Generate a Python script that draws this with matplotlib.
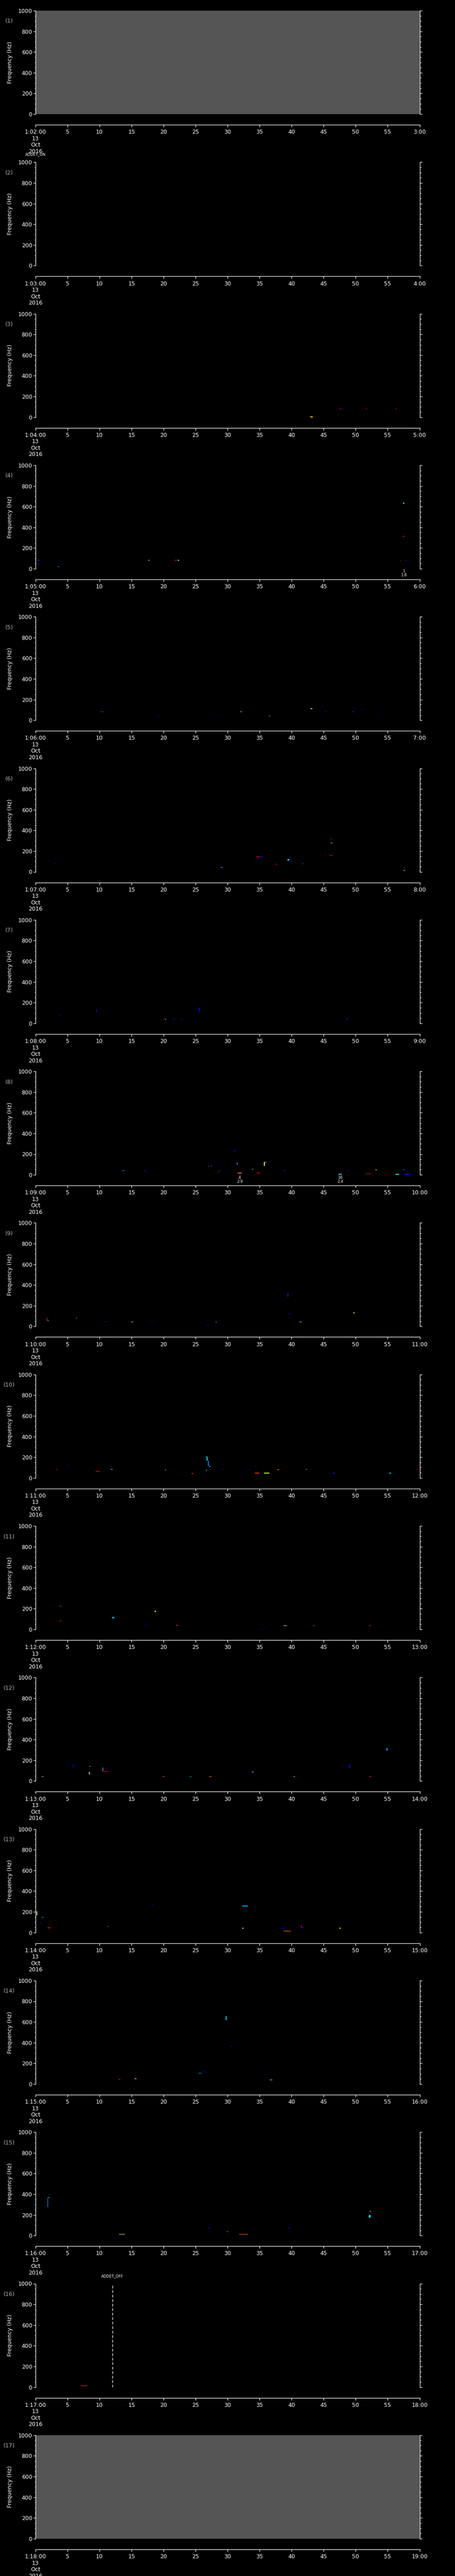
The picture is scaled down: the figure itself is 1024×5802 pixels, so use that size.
import numpy as np
import matplotlib
matplotlib.use("Agg")
import matplotlib.pyplot as plt
from matplotlib import transforms

plt.rcParams['font.family'] = ['DejaVu Sans']
plt.rcParams['lines.scale_dashes'] = False

# ---------------- data ----------------
n_panels = 17
gray_panels = [1, 17]
freq_ticks = [0, 200, 400, 600, 800, 1000]
time_ticks = [0, 5, 10, 15, 20, 25, 30, 35, 40, 45, 50, 55, 60]
date_lines = ["13", "Oct", "2016"]

# spectrogram blobs: panel, time (s), freq (Hz, centre), duration (s), freq span (Hz), colour level (0-1, jet)
ev_panel = [3, 3, 3, 3, 3,
            4, 4, 4, 4, 4, 4, 4, 4, 4, 4,
            5, 5, 5, 5, 5, 5, 5, 5, 5, 5, 5, 5,
            6, 6, 6, 6, 6, 6, 6, 6, 6, 6, 6, 6, 6, 6, 6,
            7, 7, 7, 7, 7, 7, 7, 7,
            8, 8, 8, 8, 8, 8, 8, 8, 8, 8, 8, 8, 8, 8, 8, 8, 8, 8, 8, 8, 8,
            9, 9, 9, 9, 9, 9, 9, 9, 9, 9, 9, 9,
            10, 10, 10, 10, 10, 10, 10, 10, 10, 10, 10, 10, 10, 10, 10, 10, 10, 10, 10, 10, 10, 10,
            11, 11, 11, 11, 11, 11, 11, 11, 11, 11,
            12, 12, 12, 12, 12, 12, 12, 12, 12, 12, 12, 12, 12, 12, 12, 12, 12,
            13, 13, 13, 13, 13, 13, 13, 13, 13, 13, 13, 13, 13,
            14, 14, 14, 14, 14, 14, 14,
            15, 15, 15, 15, 15, 15, 15, 15, 15, 15,
            16]
ev_time = [43.1, 47.6, 47.9, 51.7, 56.3,
           0.5, 0.5, 3.6, 17.7, 21.9, 22.3, 57.5, 57.5, 57.1, 57.9,
           10.3, 10.6, 19.1, 27.8, 32.1, 36.5, 36.7, 43.1, 45.3, 49.6, 51.0, 54.0,
           3.0, 29.1, 34.7, 35.2, 37.6, 39.5, 39.8, 40.0, 41.8, 46.2, 46.2, 46.2, 57.6, 57.6, 59.9,
           3.9, 9.5, 20.0, 20.3, 21.6, 22.8, 25.6, 48.7,
           13.7, 17.1, 27.0, 27.5, 28.5, 28.8, 31.1, 31.5, 31.9, 33.9, 34.8, 35.75, 35.95, 38.9, 47.6, 48.8, 52.0, 53.2, 56.5, 57.5, 58.0,
           1.8, 2.0, 6.4, 11.0, 15.1, 18.2, 26.9, 28.2, 39.4, 39.7, 41.4, 49.7,
           3.3, 5.1, 9.7, 11.8, 20.3, 24.5, 26.6, 26.8, 27.0, 27.25, 26.7, 29.3, 33.5, 34.4, 34.6, 36.1, 37.9, 42.3, 46.6, 55.4, 59.6, 12.0,
           3.9, 3.9, 12.1, 18.7, 17.3, 22.1, 35.3, 39.0, 43.5, 52.3,
           1.1, 5.9, 8.5, 8.4, 10.1, 10.5, 10.9, 11.0, 20.0, 24.2, 27.3, 33.9, 40.4, 49.0, 52.3, 54.9, 8.6,
           0.2, 1.1, 0.9, 2.1, 11.3, 18.3, 32.7, 32.4, 38.7, 39.3, 41.5, 41.8, 47.6,
           29.8, 30.6, 25.7, 26.4, 13.1, 15.6, 36.8,
           1.9, 2.1, 13.5, 27.1, 30.0, 32.5, 39.5, 52.3, 52.4, 52.2,
           7.6]
ev_freq = [2, 79, 79, 82, 82,
           82, 39, 20, 82, 80, 80, 632, 313, 79, 82,
           82, 82, 42, 42, 82, 42, 42, 113, 82, 82, 101, 51,
           78, 41, 143, 143, 72, 117, 146, 100, 78, 317, 278, 157, 38, 13, 10,
           79, 121, 39, 39, 39, 39, 130, 42,
           42, 42, 82, 86, 32, 42, 232, 110, 17, 55, 17, 105, 120, 40, 4, 40, 12, 48, 4, 48, 4,
           68, 55, 82, 48, 42, 37, 8, 42, 305, 121, 42, 130,
           83, 120, 63, 83, 78, 41, 207, 185, 140, 110, 75, 83, 75, 114, 46, 46, 80, 83, 46, 46, 83, 83,
           225, 82, 113, 175, 42, 42, 3, 37, 37, 37,
           42, 145, 141, 75, 130, 112, 93, 118, 42, 42, 42, 87, 42, 140, 42, 306, 62,
           185, 148, 89, 46, 58, 266, 257, 41, 41, 15, 58, 46, 41,
           637, 365, 106, 117, 44, 52, 41,
           320, 368, 12, 74, 37, 12, 74, 234, 225, 185,
           13]
ev_dur = [0.4, 0.2, 0.2, 0.2, 0.2,
          0.25, 0.15, 0.3, 0.15, 0.3, 0.2, 0.25, 0.3, 0.2, 0.15,
          0.2, 0.2, 0.25, 0.25, 0.25, 0.15, 0.2, 0.3, 0.2, 0.2, 0.3, 0.2,
          0.2, 0.3, 0.4, 0.4, 0.25, 0.25, 0.15, 0.3, 0.25, 0.35, 0.3, 0.35, 0.3, 0.3, 0.2,
          0.25, 0.15, 0.2, 0.2, 0.25, 0.25, 0.1, 0.25,
          0.3, 0.3, 0.2, 0.25, 0.1, 0.25, 0.25, 0.15, 0.6, 0.2, 0.5, 0.1, 0.2, 0.25, 0.5, 0.2, 0.8, 0.2, 0.5, 0.2, 0.8,
          0.15, 0.2, 0.2, 0.3, 0.4, 0.2, 0.4, 0.25, 0.15, 0.2, 0.3, 0.2,
          0.2, 0.2, 0.6, 0.2, 0.2, 0.3, 0.2, 0.1, 0.1, 0.2, 0.2, 0.2, 0.2, 0.2, 0.6, 0.8, 0.25, 0.2, 0.3, 0.25, 0.2, 0.2,
          0.4, 0.3, 0.3, 0.2, 0.25, 0.3, 0.3, 0.6, 0.2, 0.3,
          0.3, 0.15, 0.25, 0.1, 0.5, 0.1, 0.9, 0.2, 0.3, 0.3, 0.3, 0.4, 0.3, 0.2, 0.3, 0.2, 0.4,
          0.1, 0.3, 0.3, 0.4, 0.2, 0.3, 0.9, 0.2, 0.3, 1.2, 0.1, 0.3, 0.2,
          0.15, 0.2, 0.5, 0.3, 0.3, 0.3, 0.4,
          0.1, 0.25, 0.9, 0.2, 0.3, 1.4, 0.3, 0.2, 0.2, 0.25,
          1.1]
ev_span = [8, 7, 7, 5, 5,
           7, 5, 7, 7, 7, 7, 10, 7, 7, 7,
           6, 6, 6, 6, 6, 6, 6, 7, 6, 6, 6, 5,
           5, 6, 6, 6, 6, 14, 8, 6, 6, 6, 6, 6, 6, 6, 6,
           5, 20, 6, 6, 6, 6, 45, 6,
           6, 6, 6, 6, 25, 6, 8, 25, 7, 6, 7, 40, 8, 6, 6, 6, 5, 6, 6, 6, 6,
           30, 6, 6, 6, 6, 5, 6, 6, 40, 10, 6, 8,
           5, 5, 5, 5, 8, 6, 6, 40, 50, 10, 5, 5, 5, 5, 7, 7, 8, 5, 6, 6, 5, 5,
           5, 6, 12, 14, 5, 6, 5, 4, 5, 5,
           6, 28, 6, 20, 4, 35, 5, 6, 6, 6, 6, 6, 6, 30, 6, 22, 4,
           35, 5, 5, 6, 5, 6, 7, 6, 6, 5, 25, 6, 5,
           35, 8, 5, 6, 5, 10, 4,
           90, 5, 6, 5, 6, 6, 5, 6, 6, 25,
           6]
ev_level = [0.7, 0.95, 0.1, 0.9, 0.9,
            0.15, 0.9, 0.2, 0.5, 0.95, 0.5, 0.35, 0.95, 0.95, 0.15,
            0.95, 0.15, 0.12, 0.12, 0.3, 0.7, 0.15, 0.55, 0.12, 0.15, 0.1, 0.12,
            0.15, 0.25, 0.9, 0.15, 0.9, 0.35, 0.12, 0.1, 0.2, 0.95, 0.5, 0.95, 0.2, 0.6, 0.95,
            0.12, 0.12, 0.95, 0.65, 0.15, 0.15, 0.12, 0.15,
            0.3, 0.15, 0.9, 0.15, 0.95, 0.15, 0.1, 0.25, 0.8, 0.5, 0.95, 0.65, 0.35, 0.2, 0.35, 0.15, 0.9, 0.75, 0.4, 0.2, 0.15,
            0.95, 0.35, 0.8, 0.15, 0.4, 0.12, 0.12, 0.3, 0.15, 0.15, 0.5, 0.6,
            0.9, 0.12, 0.95, 0.5, 0.7, 0.9, 0.3, 0.35, 0.25, 0.3, 0.5, 0.15, 0.12, 0.95, 0.85, 0.6, 0.85, 0.5, 0.15, 0.35, 0.9, 0.5,
            0.9, 0.95, 0.3, 0.45, 0.12, 0.8, 0.12, 0.55, 0.75, 0.9,
            0.5, 0.12, 0.5, 0.5, 0.5, 0.5, 0.9, 0.12, 0.8, 0.3, 0.75, 0.25, 0.4, 0.15, 0.85, 0.3, 0.9,
            0.5, 0.35, 0.12, 0.9, 0.8, 0.12, 0.3, 0.5, 0.12, 0.75, 0.95, 0.12, 0.65,
            0.35, 0.12, 0.3, 0.15, 0.85, 0.75, 0.55,
            0.3, 0.35, 0.6, 0.12, 0.8, 0.8, 0.12, 0.65, 0.12, 0.35,
            0.85]

# peak annotations (number / value) below a panel
peak_panel = [4, 8, 8]
peak_time = [57.5, 31.9, 47.6]
peak_num = ["1", "4", "16"]
peak_val = ["1.6", "2.9", "2.4"]

# instrument events
event_panel = [1, 16]
event_time = [0.0, 12.0]
event_name = ["ADDET_ON", "ADDET_OFF"]
event_place = ["below", "above"]

# ---------------- layout ----------------
W, H = 1024, 5802
left_px, right_px = 80, 944.5
top0_px, step_px, plot_h_px = 24, 341.3, 233
axis_off_px = 257

ev_panel = np.array(ev_panel)
ev_time = np.array(ev_time, float)
ev_freq = np.array(ev_freq, float)
ev_dur = np.array(ev_dur, float)
ev_span = np.array(ev_span, float)
ev_level = np.array(ev_level, float)
cmap = plt.get_cmap("jet")

fig = plt.figure(figsize=(W / 100, H / 100), dpi=100, facecolor="black")

for i in range(n_panels):
    n = i + 1
    top = top0_px + i * step_px
    ax = fig.add_axes([left_px / W, 1 - (top + plot_h_px) / H,
                       (right_px - left_px) / W, plot_h_px / H])
    ax.set_facecolor("#555555" if n in gray_panels else "black")
    ax.set_xlim(0, 60)
    ax.set_ylim(0, 1000)
    for s in ("top", "bottom"):
        ax.spines[s].set_visible(False)
    for s in ("left", "right"):
        ax.spines[s].set_color("white")
        ax.spines[s].set_linewidth(0.9)
    ax.set_xticks([])
    ax.set_yticks(freq_ticks)
    ax.set_yticks(np.arange(0, 1001, 50), minor=True)
    ax.tick_params(axis="y", which="both", direction="out", colors="white",
                   left=True, right=True, labelleft=True, labelright=False, width=0.9)
    ax.tick_params(axis="y", which="major", length=3.4, pad=2, labelsize=9)
    ax.tick_params(axis="y", which="minor", length=1.8)

    m = ev_panel == n
    if m.any():
        ax.bar(ev_time[m], ev_span[m], width=ev_dur[m],
               bottom=ev_freq[m] - ev_span[m] / 2,
               color=cmap(ev_level[m]), linewidth=0, align="center")

    ax.text(-0.0685, 1 - 24 / plot_h_px, f"({n})", transform=ax.transAxes,
            color="#b0b0b0", fontsize=9, ha="center", va="center")
    ax.text(-0.066, 0.5, "Frequency (Hz)", transform=ax.transAxes, rotation=90,
            color="white", fontsize=9, ha="center", va="center")

    # peak annotations
    for p, t, a, b in zip(peak_panel, peak_time, peak_num, peak_val):
        if p == n:
            ax.text(t, -6 / plot_h_px, a, transform=transforms.blended_transform_factory(ax.transData, ax.transAxes),
                    color="white", fontsize=6, ha="center", va="center")
            ax.text(t, -15 / plot_h_px, b, transform=transforms.blended_transform_factory(ax.transData, ax.transAxes),
                    color="white", fontsize=6, ha="center", va="center")

    # events
    for p, t, name, place in zip(event_panel, event_time, event_name, event_place):
        if p == n:
            tr = transforms.blended_transform_factory(ax.transData, ax.transAxes)
            if place == "above":
                ax.axvline(t, color="white", lw=0.9, dashes=(4.5, 2.8))
                ax.text(t, 1 + 17 / plot_h_px, name, transform=tr, color="white",
                        fontsize=6, ha="center", va="center")
            else:
                ax.text(t, 1 - 324 / plot_h_px, name, transform=tr, color="white",
                        fontsize=6, ha="center", va="center")

    # separate time axis
    ay = top + axis_off_px
    tax = fig.add_axes([left_px / W, 1 - ay / H, (right_px - left_px) / W, 1 / H])
    tax.set_facecolor("none")
    tax.set_xlim(0, 60)
    tax.set_ylim(0, 1)
    tax.set_yticks([])
    for s in ("top", "left", "right"):
        tax.spines[s].set_visible(False)
    tax.spines["bottom"].set_color("white")
    tax.spines["bottom"].set_linewidth(0.9)
    tax.set_xticks(time_ticks)
    labels = [f"1:{n + 1:02d}:00\n" + "\n".join(date_lines)] + \
             [str(v) for v in time_ticks[1:-1]] + [f"{n + 2}:00"]
    tax.set_xticklabels(labels)
    tax.tick_params(axis="x", direction="out", length=3.4, width=0.9, pad=4,
                    colors="white", labelsize=9)
    for lbl in tax.get_xticklabels():
        lbl.set_linespacing(1.15)

fig.savefig("out.png", dpi=100, facecolor="black")
